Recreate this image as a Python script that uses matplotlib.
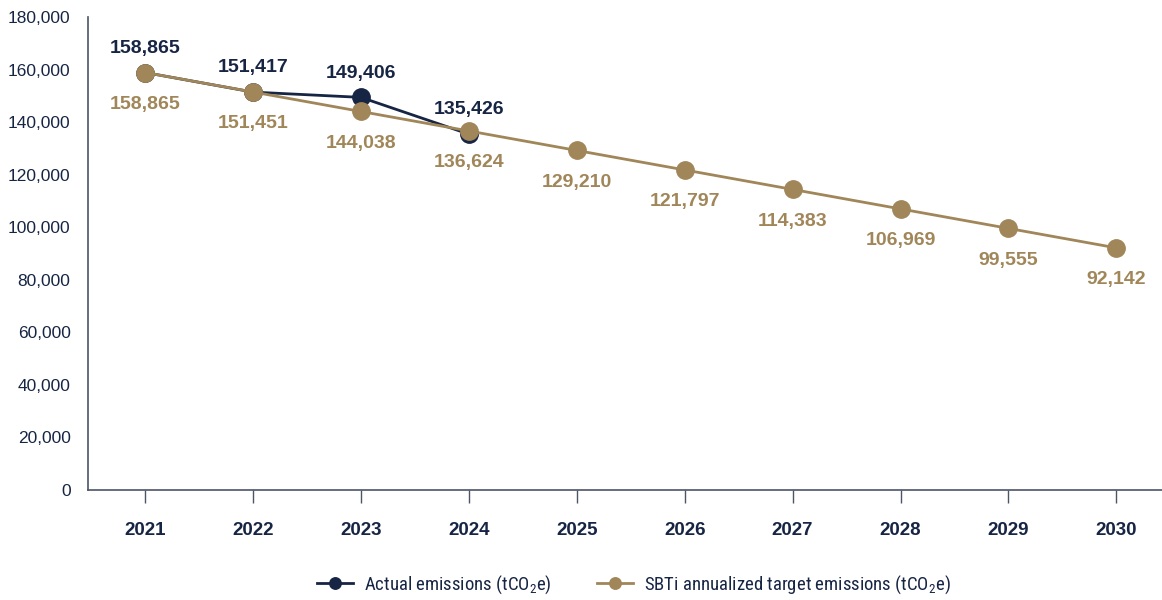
import matplotlib
matplotlib.use("Agg")
import matplotlib.pyplot as plt
from matplotlib import font_manager

years = ["2021", "2022", "2023", "2024", "2025", "2026", "2027", "2028", "2029", "2030"]
actual = [158865, 151417, 149406, 135426]
target = [158865, 151451, 144038, 136624, 129210, 121797, 114383, 106969, 99555, 92142]
yticks = [0, 20000, 40000, 60000, 80000, 100000, 120000, 140000, 160000, 180000]

navy = "#172544"
gold = "#a08658"
axis_col = "#4b5568"

plt.rcParams['font.family'] = ['Liberation Sans', 'DejaVu Sans']

names = {f.name for f in font_manager.fontManager.ttflist}
leg_family = 'Liberation Sans Narrow' if 'Liberation Sans Narrow' in names else (
    'Roboto Condensed' if 'Roboto Condensed' in names else 'Liberation Sans')
plt.rcParams['mathtext.fontset'] = 'custom'
plt.rcParams['mathtext.rm'] = leg_family
plt.rcParams['mathtext.it'] = leg_family

fig = plt.figure(figsize=(11.62, 6.0), dpi=100)
ax = fig.add_axes([0.0757, 0.1833, 0.924, 0.7884])

xa = list(range(len(actual)))
xt = list(range(len(target)))
ax.plot(xa, actual, color=navy, lw=2.0, marker='o', ms=12.5, zorder=3,
        label=r'Actual emissions (tCO$_2$e)')
ax.plot(xt, target, color=gold, lw=2.0, marker='o', ms=12.5, zorder=4,
        label=r'SBTi annualized target emissions (tCO$_2$e)')

for x, v in zip(xa, actual):
    ax.annotate(f"{v:,}", (x, v), xytext=(0, 17.5), textcoords='offset points',
                ha='center', va='center', fontsize=14, fontweight='bold', color=navy)
for x, v in zip(xt, target):
    ax.annotate(f"{v:,}", (x, v), xytext=(0, -23), textcoords='offset points',
                ha='center', va='center', fontsize=14, fontweight='bold', color=gold)

ax.set_xlim(-0.53, 9.42)
ax.set_ylim(0, 180000)
ax.set_xticks(xt)
ax.set_xticklabels(years, fontsize=13.5, fontweight='bold', color=navy)
ax.set_yticks(yticks)
ax.set_yticklabels([f"{v:,}" for v in yticks], fontsize=12.5, color=navy)
ax.tick_params(axis='y', length=0, pad=12.5)
ax.tick_params(axis='x', length=9, width=1, color=axis_col, pad=14)
for s in ['top', 'right']:
    ax.spines[s].set_visible(False)
for s in ['left', 'bottom']:
    ax.spines[s].set_color(axis_col)
    ax.spines[s].set_linewidth(1.2)

leg = fig.legend(loc='center', bbox_to_anchor=(0.5456, 0.026), ncol=2, frameon=False,
                 prop={'family': leg_family, 'size': 13.5},
                 handlelength=1.92, columnspacing=2.4, handletextpad=0.59,
                 markerscale=0.66)
for t in leg.get_texts():
    t.set_color(navy)

fig.savefig("out.png", dpi=100)
